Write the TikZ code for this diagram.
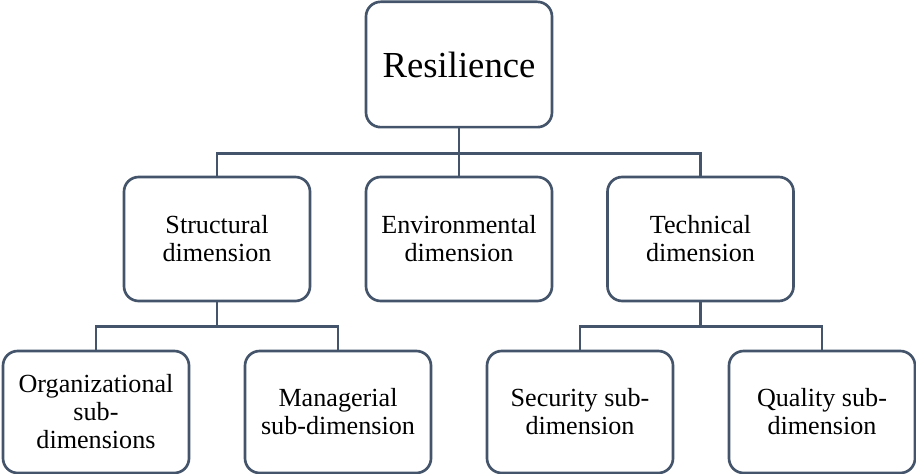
\documentclass[tikz,border=0pt]{standalone}
\usepackage{fontspec}
\setmainfont{Liberation Serif}
\usepackage{tikz}
\usetikzlibrary{positioning}
\definecolor{boxline}{HTML}{44546A}

\begin{document}
\begin{tikzpicture}[x=0.75pt,y=-0.75pt,
        dimbox/.style={draw=boxline, line width=2pt, rounded corners=11pt, align=center,
            minimum width=139.5pt, minimum height=93pt, inner sep=0pt,
            font=\fontsize{19.6}{21}\selectfont},
        link/.style={draw=boxline, line width=2pt}]
        \useasboundingbox (0,0) rectangle (916,474);

        % Root
        \node[dimbox, minimum height=94pt, font=\fontsize{27.5}{30}\selectfont] (res) at (459,64.5) {Resilience};

        % Dimensions
        \node[dimbox] (struct) at (217,239) {Structural\\dimension};
        \node[dimbox] (env) at (459,239) {Environmental\\dimension};
        \node[dimbox] (tech) at (700.5,239) {Technical\\dimension};

        % Sub-dimensions
        \node[dimbox, minimum height=91.5pt] (org) at (96,412) {Organizational\\sub-\\dimensions};
        \node[dimbox, minimum height=91.5pt] (man) at (338,412) {Managerial\\sub-dimension};
        \node[dimbox, minimum height=91.5pt] (sec) at (580,412) {Security sub-\\dimension};
        \node[dimbox, minimum height=91.5pt] (qual) at (822,412) {Quality sub-\\dimension};

        % Links
        \draw[link] (res.south) -- (env.north);
        \foreach \kid in {struct,tech} {
            \draw[link] (res.south) -- ++(0,25) -| (\kid.north);
        }
        \foreach \kid in {org,man} {
            \draw[link] (struct.south) -- ++(0,24) -| (\kid.north);
        }
        \foreach \kid in {sec,qual} {
            \draw[link] (tech.south) -- ++(0,24) -| (\kid.north);
        }
    \end{tikzpicture}
\end{document}
